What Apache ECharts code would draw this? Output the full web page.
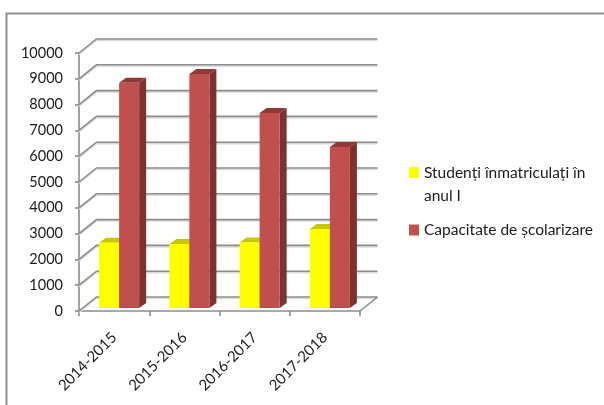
<!DOCTYPE html>
<html><head><meta charset="utf-8">
<style>html,body{margin:0;padding:0;background:#fff}#c{width:604px;height:405px}</style>
<script src="https://cdn.jsdelivr.net/npm/echarts@6/dist/echarts.min.js"></script>
</head><body><div id="c"></div>
<script>
const categories = ['2014-2015','2015-2016','2016-2017','2017-2018'];
const studenti = [2530,2480,2540,3060];
const capacitate = [8730,9070,7560,6240];
const yTicks = [0,1000,2000,3000,4000,5000,6000,7000,8000,9000,10000];
const nameA = 'Studenți înmatriculați în anul I';
const nameB = 'Capacitate de școlarizare';
const FONT = 'Lato';
const TXT = '#1c1c1c', LINE = '#8c8c8c';
const DX = 17.5, DY = -14;

function barItem(slot, front, top, side){
  return function(params, api){
    const i = api.value(0), v = api.value(1);
    const base = api.coord([i, 0]), head = api.coord([i, v]);
    const band = api.size([1, 0])[0];
    const w = band * 0.285;
    const x = base[0] + (slot === 0 ? -15 : 5);
    const yb = base[1] - 3, yt = head[1] - 3, d = 7, e = 5;
    return {type:'group', children:[
      {type:'polygon', shape:{points:[[x+w,yt],[x+w+d,yt-e],[x+w+d,yb-e],[x+w,yb]]}, style:{fill:side}},
      {type:'polygon', shape:{points:[[x,yt],[x+d,yt-e],[x+w+d,yt-e],[x+w,yt]]}, style:{fill:top}},
      {type:'rect', shape:{x:x, y:yt, width:w, height:yb-yt}, style:{fill:front}}
    ]};
  };
}
function wallItem(params, api){
  const v = api.value(0), cs = params.coordSys;
  const p = api.coord([0, v]), y = p[1], xl = cs.x, xr = cs.x + cs.width;
  const pts = [[xl,y],[xl+DX,y+DY],[xr+DX,y+DY]];
  const kids = [
    {type:'polyline', shape:{points:pts.map(q=>[q[0],q[1]+1.5])}, style:{stroke:'#dcdcdc',lineWidth:1.5,fill:null}},
    {type:'polyline', shape:{points:pts}, style:{stroke:LINE,lineWidth:1.6,fill:null}}
  ];
  if (v === 0) kids.push({type:'line', shape:{x1:xr,y1:y,x2:xr+DX,y2:y+DY}, style:{stroke:LINE,lineWidth:1.6}});
  return {type:'group', children:kids};
}
const chart = echarts.init(document.getElementById('c'), null, {renderer:'canvas'});
chart.setOption({
  animation:false,
  backgroundColor:'#fff',
  grid:{left:79, top:53, width:281, height:258, containLabel:false},
  graphic:[{type:'polyline', silent:true, shape:{points:[[604,13.5],[6.5,13.5],[6.5,405]]}, style:{stroke:'#8f8f8f',lineWidth:2,fill:null}}],
  legend:[
    {show:true, left:409, top:138, padding:0, itemWidth:10, itemHeight:11, orient:'vertical', data:[{name:nameA,icon:'rect'}],
     formatter:()=>'\nStudenți înmatriculați în\nanul I',
     textStyle:{fontFamily:FONT,fontSize:15.5,color:TXT,lineHeight:23}},
    {show:true, left:409, top:222, padding:0, itemWidth:10, itemHeight:11, orient:'vertical', data:[{name:nameB,icon:'rect'}],
     textStyle:{fontFamily:FONT,fontSize:15.5,color:TXT}}
  ],
  xAxis:{type:'category', data:categories,
    axisLine:{lineStyle:{color:LINE,width:1.6}},
    axisTick:{show:true,alignWithLabel:false,length:5,lineStyle:{color:LINE,width:1.6}},
    axisLabel:{rotate:45,fontFamily:FONT,fontSize:15,color:TXT,margin:24,interval:0}},
  yAxis:{type:'value', min:0, max:10000, interval:1000,
    axisLine:{show:true,lineStyle:{color:LINE,width:1.6}},
    axisTick:{show:true,length:4,lineStyle:{color:LINE,width:1.6}},
    splitLine:{show:false},
    axisLabel:{fontFamily:FONT,fontSize:14.5,color:TXT,margin:16,formatter:v=>String(v)}},
  series:[
    {type:'custom', name:'wall', silent:true, z:1, coordinateSystem:'cartesian2d', encode:{y:0}, clip:false, renderItem:wallItem, data:yTicks.map(v=>[v])},
    {type:'custom', name:nameA, z:2, itemStyle:{color:'#ffff00'}, encode:{x:0,y:1}, clip:false, renderItem:barItem(0,'#ffff00','#c8c800','#9a9a00'), data:studenti.map((v,i)=>[i,v])},
    {type:'custom', name:nameB, z:3, itemStyle:{color:'#c0504d'}, encode:{x:0,y:1}, clip:false, renderItem:barItem(1,'#c0504d','#8f3836','#7d3230'), data:capacitate.map((v,i)=>[i,v])}
  ]
});
</script></body></html>
